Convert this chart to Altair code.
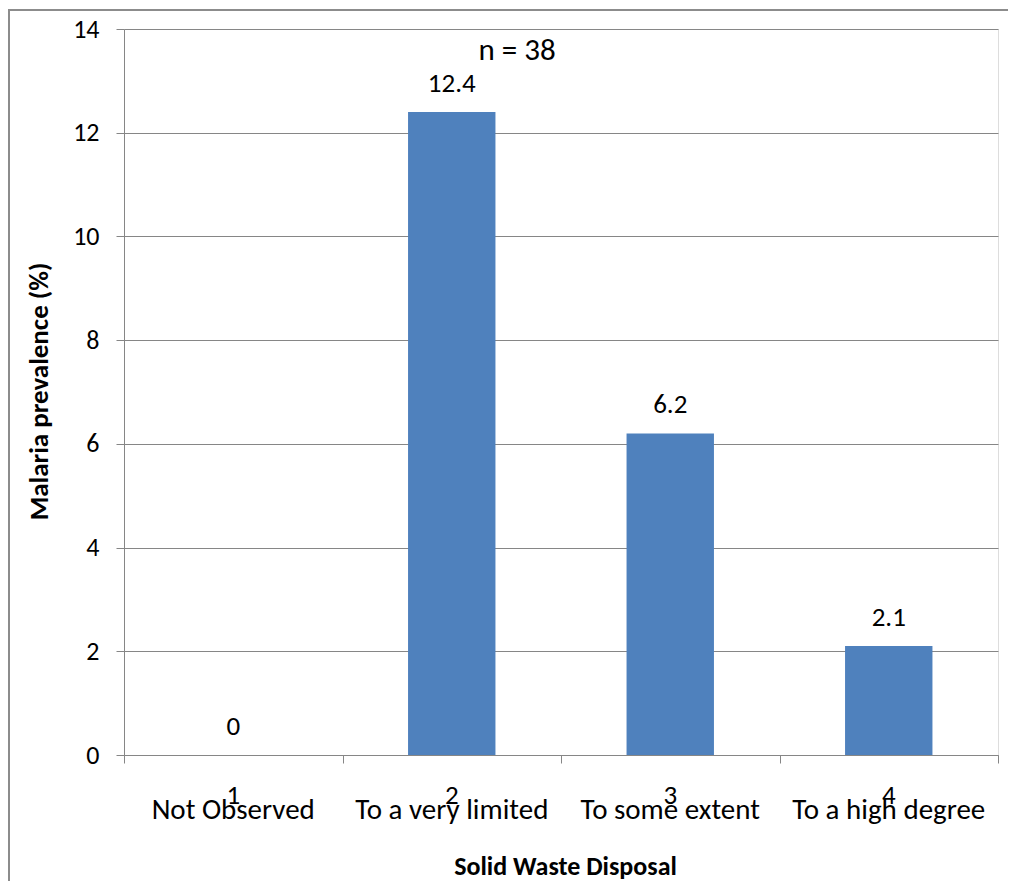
import altair as alt
import pandas as pd

# Data
codes = ["1", "2", "3", "4"]
names = ["Not Observed", "To a very limited", "To some extent", "To a high degree"]
values = [0, 12.4, 6.2, 2.1]
value_labels = ["0", "12.4", "6.2", "2.1"]
note = ["n = 38"]

W, H = 874, 726
FONT = "Carlito, Calibri, Lato"
GRAY = "#868686"

df = pd.DataFrame({
    "idx": [1, 2, 3, 4],
    "code": codes,
    "name": names,
    "value": values,
    "label": value_labels,
})

base = alt.Chart(df).transform_calculate(
    center="datum.idx - 0.5",
    left="datum.idx - 0.7",
    right="datum.idx - 0.3",
)

xscale = alt.Scale(domain=[0, 4], nice=False, zero=False)
yscale = alt.Scale(domain=[0, 14], nice=False)

bars = base.mark_bar(color="#4F81BD").encode(
    x=alt.X("left:Q", scale=xscale, axis=alt.Axis(
        values=[0, 1, 2, 3, 4], labels=False, grid=False, tickSize=8,
        tickColor=GRAY, domainColor=GRAY, title="Solid Waste Disposal",
        titleFont=FONT, titleFontSize=26, titleFontWeight="bold", titleColor="black",
        titleBaseline="alphabetic", titleY=119, titleX=441, titleAnchor="middle", titleAlign="center")),
    x2="right:Q",
    y=alt.Y("value:Q", scale=yscale, axis=alt.Axis(
        values=[0, 2, 4, 6, 8, 10, 12, 14], grid=True, gridColor=GRAY, tickColor=GRAY,
        domainColor=GRAY, tickSize=8, labelPadding=17, labelFont=FONT, labelFontSize=26,
        labelColor="black", title="Malaria prevalence (%)", titleFont=FONT,
        titleFontSize=27, titleFontWeight="bold", titleColor="black",
        titleAngle=-90, titleX=-77, titleY=362, titleBaseline="alphabetic", titleAlign="center")),
    y2=alt.datum(0),
)

val_text = base.mark_text(font=FONT, fontSize=27, baseline="alphabetic", dy=-20, color="black").encode(
    x=alt.X("center:Q", scale=xscale),
    y=alt.Y("value:Q", scale=yscale),
    text="label:N",
)

code_text = base.mark_text(font=FONT, fontSize=27, baseline="alphabetic", color="black").encode(
    x=alt.X("center:Q", scale=xscale),
    y=alt.value(H + 49),
    text="code:N",
)

name_text = base.mark_text(font=FONT, fontSize=29, baseline="alphabetic", color="black").encode(
    x=alt.X("center:Q", scale=xscale),
    y=alt.value(H + 64),
    text="name:N",
)

note_text = alt.Chart(pd.DataFrame({"t": note})).mark_text(
    font=FONT, fontSize=31, baseline="alphabetic", color="black").encode(
    x=alt.value(393), y=alt.value(31), text="t:N")

border = alt.Chart(pd.DataFrame({"t": note})).mark_rect(
    filled=False, stroke="#8c8c8c", strokeWidth=2).encode(
    x=alt.value(-115), x2=alt.value(W + 300), y=alt.value(-19), y2=alt.value(H + 400))

chart = alt.layer(border, bars, val_text, code_text, name_text, note_text).properties(
    width=W, height=H,
    autosize=alt.AutoSizeParams(type="none"),
    padding={"left": 116, "top": 21, "right": 10, "bottom": 126},
).configure_view(stroke=None).configure(background="white")

chart.save("out.html", embed_options={"renderer": "svg", "actions": False})
